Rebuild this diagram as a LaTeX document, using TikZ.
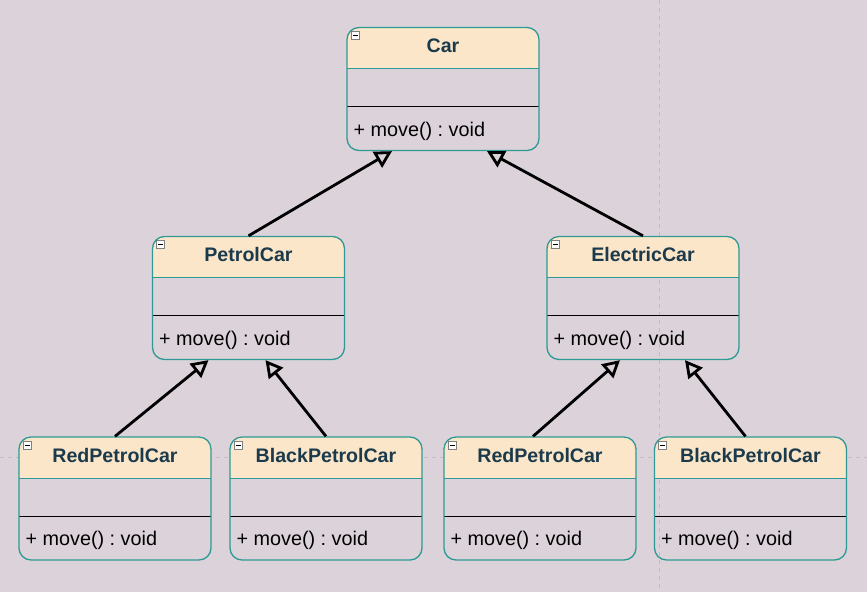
\documentclass[tikz,border=0pt]{standalone}
\usepackage{fontspec}
\setmainfont{Liberation Sans}
\frenchspacing
\usetikzlibrary{arrows.meta,positioning}
\definecolor{bgcol}{HTML}{DCD3DA}
\definecolor{headfill}{HTML}{FCE6C9}
\definecolor{clsline}{HTML}{2E9A96}
\definecolor{titlecol}{HTML}{1B3A4B}
\definecolor{guide}{HTML}{C4BAC2}

\begin{document}
\begin{tikzpicture}[x=1pt, y=-1pt,
    cls/.style={draw=clsline, line width=1.3pt, rounded corners=12pt,
        minimum width=192pt, minimum height=123pt, inner sep=0pt,
        path picture={
            \fill[headfill, sharp corners] (path picture bounding box.north west) rectangle ([yshift=-41pt]path picture bounding box.north east);
            \draw[clsline, sharp corners, line width=1pt] ([yshift=-41pt]path picture bounding box.north west) -- ([yshift=-41pt]path picture bounding box.north east);
            \draw[black, sharp corners, line width=0.9pt] ([yshift=-79pt]path picture bounding box.north west) -- ([yshift=-79pt]path picture bounding box.north east);
            \draw[gray, fill=white, sharp corners, line width=0.6pt] ([shift={(4pt,-4pt)}]path picture bounding box.north west) rectangle ++(8pt,-8pt);
            \draw[black, sharp corners, line width=0.9pt] ([shift={(5.5pt,-8pt)}]path picture bounding box.north west) -- ++(5pt,0pt);
        }},
    title/.style={font=\bfseries\fontsize{19.6}{23}\selectfont, text=titlecol},
    member/.style={font=\fontsize{19.8}{23}\selectfont, anchor=west, inner sep=0pt},
    gen/.style={-{Triangle[open, length=17pt, width=18pt]}, line width=2.8pt, black}
]
    % Canvas and page guides
    \useasboundingbox (0,0) rectangle (867,592);
    \fill[bgcol] (0,0) rectangle (867,592);
    \draw[guide, dash pattern=on 4pt off 4pt, line width=0.8pt] (659,0) -- (659,592);
    \draw[guide, dash pattern=on 4pt off 4pt, line width=0.8pt] (0,457) -- (867,457);

    % Base class
    \node[cls] (car) at (443,89) {};
    \node[title] (car-t) at ([yshift=-19pt]car.north) {Car};
    \node[member] (car-m) at ([shift={(7pt,20pt)}]car.south west) {+ move() : void};

    % Second level
    \node[cls] (petrol) at (248.5,298) {};
    \node[title] (petrol-t) at ([yshift=-19pt]petrol.north) {PetrolCar};
    \node[member] (petrol-m) at ([shift={(7pt,20pt)}]petrol.south west) {+ move() : void};

    \node[cls] (electric) at (643,298) {};
    \node[title] (electric-t) at ([yshift=-19pt]electric.north) {ElectricCar};
    \node[member] (electric-m) at ([shift={(7pt,20pt)}]electric.south west) {+ move() : void};

    % Leaves
    \node[cls] (redL) at (115,498.5) {};
    \node[title] (redL-t) at ([yshift=-19pt]redL.north) {RedPetrolCar};
    \node[member] (redL-m) at ([shift={(7pt,20pt)}]redL.south west) {+ move() : void};

    \node[cls] (blackL) at (326,498.5) {};
    \node[title] (blackL-t) at ([yshift=-19pt]blackL.north) {BlackPetrolCar};
    \node[member] (blackL-m) at ([shift={(7pt,20pt)}]blackL.south west) {+ move() : void};

    \node[cls] (redR) at (540,498.5) {};
    \node[title] (redR-t) at ([yshift=-19pt]redR.north) {RedPetrolCar};
    \node[member] (redR-m) at ([shift={(7pt,20pt)}]redR.south west) {+ move() : void};

    \node[cls] (blackR) at (750.5,498.5) {};
    \node[title] (blackR-t) at ([yshift=-19pt]blackR.north) {BlackPetrolCar};
    \node[member] (blackR-m) at ([shift={(7pt,20pt)}]blackR.south west) {+ move() : void};

    % Generalisation arrows
    \draw[gen] (petrol.north) -- ([xshift=-51pt]car.south);
    \draw[gen] (electric.north) -- ([xshift=44pt]car.south);
    \draw[gen] (redL.north) -- ([xshift=-40pt]petrol.south);
    \draw[gen] (blackL.north) -- ([xshift=17pt]petrol.south);
    \draw[gen] ([xshift=-7pt]redR.north) -- ([xshift=-23pt]electric.south);
    \draw[gen] ([xshift=-5pt]blackR.north) -- ([xshift=42pt]electric.south);
\end{tikzpicture}
\end{document}
